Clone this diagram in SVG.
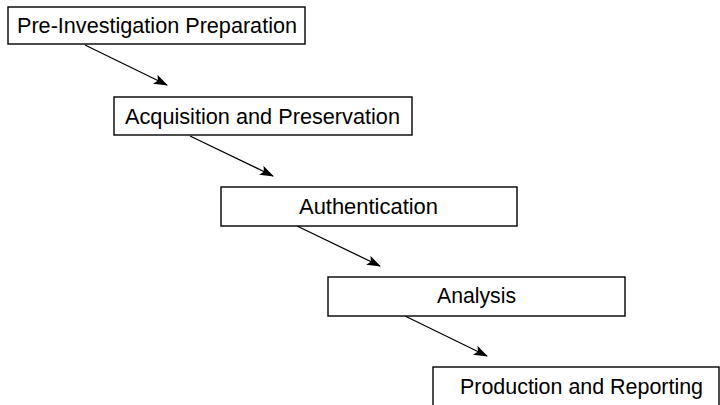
<svg xmlns="http://www.w3.org/2000/svg" width="720" height="405" viewBox="0 0 720 405">
<defs>
<style>
.box{fill:#fff;stroke:#000;stroke-width:1.4}
.lbl{font-family:"Liberation Sans",Arial,sans-serif;font-size:21.5px;fill:#000;text-anchor:middle}
.conn{stroke:#000;stroke-width:1.3;fill:none;marker-end:url(#ah)}
</style>
<marker id="ah" markerWidth="14" markerHeight="10" refX="13" refY="5" orient="auto" markerUnits="userSpaceOnUse">
<path d="M0,0 L14,5 L0,10 L3,5 Z" fill="#000"/>
</marker>
</defs>
<rect width="720" height="405" fill="#fff"/>
<g id="connectors">
<line class="conn" x1="85" y1="45" x2="167" y2="85"/>
<line class="conn" x1="190" y1="136" x2="273" y2="176"/>
<line class="conn" x1="297" y1="226" x2="380" y2="266"/>
<line class="conn" x1="405" y1="316" x2="487" y2="356"/>
</g>
<g id="n1">
<rect class="box" x="8" y="7" width="297" height="37"/>
<text class="lbl" x="157" y="33" textLength="280" lengthAdjust="spacingAndGlyphs">Pre-Investigation Preparation</text>
</g>
<g id="n2">
<rect class="box" x="114" y="97" width="298" height="38"/>
<text class="lbl" x="262.5" y="124" textLength="275" lengthAdjust="spacingAndGlyphs">Acquisition and Preservation</text>
</g>
<g id="n3">
<rect class="box" x="221" y="187" width="296" height="39"/>
<text class="lbl" x="368.5" y="214" textLength="139" lengthAdjust="spacingAndGlyphs">Authentication</text>
</g>
<g id="n4">
<rect class="box" x="328" y="277" width="297" height="39"/>
<text class="lbl" x="476.5" y="303" textLength="79" lengthAdjust="spacingAndGlyphs">Analysis</text>
</g>
<g id="n5">
<rect class="box" x="433" y="367" width="286" height="45"/>
<text class="lbl" x="581.5" y="394" textLength="243" lengthAdjust="spacingAndGlyphs">Production and Reporting</text>
</g>
</svg>
